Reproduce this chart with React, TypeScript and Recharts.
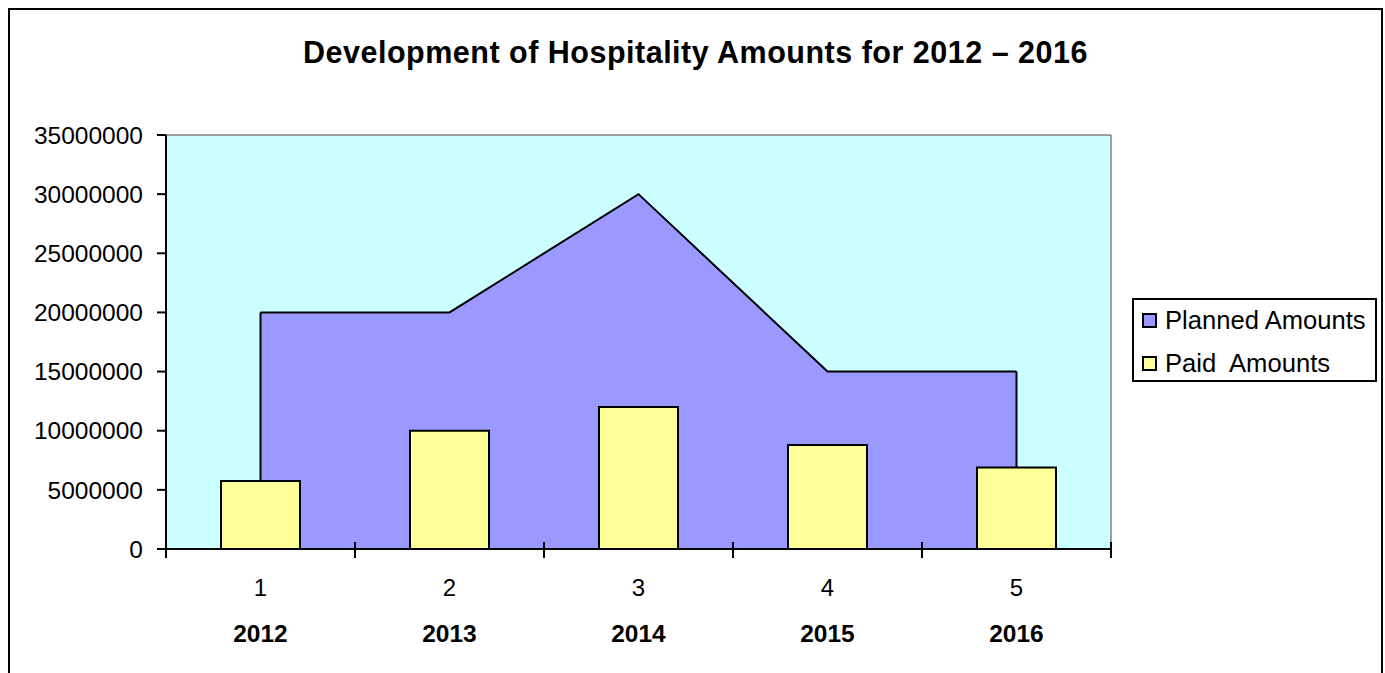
import React from "react";
import {
  ComposedChart,
  Area,
  Bar,
  XAxis,
  YAxis,
  CartesianGrid,
  Legend,
} from "recharts";

// chart values
const categories = ["1", "2", "3", "4", "5"];
const years = ["2012", "2013", "2014", "2015", "2016"];
const plannedAmounts = [20000000, 20000000, 30000000, 15000000, 15000000];
const paidAmounts = [5750000, 10000000, 12000000, 8800000, 6900000];
const yTicks = [0, 5000000, 10000000, 15000000, 20000000, 25000000, 30000000, 35000000];

const PLANNED_NAME = "Planned Amounts";
const PAID_NAME = "Paid  Amounts";
const PLANNED_COLOR = "#9999FF";
const PAID_COLOR = "#FFFF99";

const FONT = '"Liberation Sans", Arial, sans-serif';

const CHART_W = 1375;
const CHART_H = 665;
const MARGIN = { top: 127, right: 272, bottom: 14, left: 0 };
const Y_AXIS_W = 158;
const X_AXIS_H = 110;
const PLOT_W = CHART_W - MARGIN.left - MARGIN.right - Y_AXIS_W;
const PLOT_BOTTOM = CHART_H - MARGIN.bottom - X_AXIS_H;
const BAND = PLOT_W / categories.length;

const data = categories.map((c, i) => ({
  idx: c,
  planned: plannedAmounts[i],
  paid: paidAmounts[i],
}));

const legendItems = [
  { name: PLANNED_NAME, color: PLANNED_COLOR },
  { name: PAID_NAME, color: PAID_COLOR },
];

// x tick: number, bold year below, tick marks on the category borders
const XTick = (props: any) => {
  const { x, y, payload, index } = props;
  const half = BAND / 2;
  return (
    <g>
      <line x1={x - half} x2={x - half} y1={y - 7} y2={y + 9} stroke="#000" strokeWidth={2} />
      {index === categories.length - 1 && (
        <line x1={x + half} x2={x + half} y1={y - 7} y2={y + 9} stroke="#000" strokeWidth={2} />
      )}
      <text x={x} y={y + 47} textAnchor="middle" fontSize={24} fontFamily={FONT} fill="#000">
        {payload.value}
      </text>
      <text x={x} y={y + 93} textAnchor="middle" fontSize={24.5} fontWeight="bold" fontFamily={FONT} fill="#000">
        {years[index]}
      </text>
    </g>
  );
};

// the area outline is closed on its two ends
const edgeDot = (props: any) => {
  const { cx, cy, index } = props;
  if (index !== 0 && index !== categories.length - 1) return <g key={index} />;
  return <line key={index} x1={cx} x2={cx} y1={cy} y2={PLOT_BOTTOM} stroke="#000" strokeWidth={2} />;
};

const LegendBox = () => (
  <div
    style={{
      width: 245,
      height: 84,
      boxSizing: "border-box",
      border: "2px solid #000",
      background: "#fff",
      paddingTop: 8,
      fontFamily: FONT,
    }}
  >
    {legendItems.map((item, i) => (
      <div
        key={item.name}
        style={{ display: "flex", alignItems: "center", height: 25, marginTop: i === 0 ? 0 : 18 }}
      >
        <div
          style={{
            width: 15,
            height: 15,
            boxSizing: "border-box",
            border: "2px solid #000",
            background: item.color,
            marginLeft: 8,
            marginRight: 8,
          }}
        />
        <span style={{ fontSize: 25.6, lineHeight: "25px", whiteSpace: "pre", color: "#000" }}>{item.name}</span>
      </div>
    ))}
  </div>
);

const App = () => {
  return (
    <div style={{ position: "fixed", left: 0, top: 0, width: "100vw", height: "100vh", overflow: "hidden", background: "#fff" }}>
      <div style={{ position: "absolute", left: 8, top: 8, width: CHART_W, height: 700 }}>
        <div
          style={{
            position: "absolute",
            left: 0,
            top: 29,
            width: CHART_W,
            textAlign: "center",
            fontFamily: FONT,
            fontSize: 30.5,
            lineHeight: "30px",
            fontWeight: "bold",
            letterSpacing: 0.5,
            color: "#000",
          }}
        >
          Development of Hospitality Amounts for 2012 – 2016
        </div>
        <ComposedChart width={CHART_W} height={CHART_H} data={data} margin={MARGIN}>
          <CartesianGrid
            fill="#CCFFFF"
            fillOpacity={1}
            stroke="#808080"
            strokeWidth={1.5}
            horizontalCoordinatesGenerator={({ offset }: any) => [offset.top]}
            verticalCoordinatesGenerator={({ offset }: any) => [offset.left + offset.width]}
          />
          <XAxis
            dataKey="idx"
            height={X_AXIS_H}
            interval={0}
            tickSize={0}
            tickMargin={0}
            tickLine={false}
            axisLine={{ stroke: "#000", strokeWidth: 2 }}
            tick={<XTick />}
          />
          <YAxis
            width={Y_AXIS_W}
            domain={[0, 35000000]}
            ticks={yTicks}
            interval={0}
            tickSize={9}
            tickMargin={14}
            tickFormatter={(v: number) => String(v)}
            axisLine={{ stroke: "#000", strokeWidth: 2 }}
            tickLine={{ stroke: "#000", strokeWidth: 2 }}
            tick={{ fill: "#000", fontSize: 24.5, fontFamily: FONT }}
          />
          <Legend
            layout="horizontal"
            align="center"
            verticalAlign="middle"
            content={<LegendBox />}
            wrapperStyle={{ left: 1124, top: 290, width: 245, height: 84 }}
          />
          <Area
            type="linear"
            dataKey="planned"
            name={PLANNED_NAME}
            fill={PLANNED_COLOR}
            fillOpacity={1}
            stroke="#000"
            strokeWidth={2}
            dot={edgeDot}
            activeDot={false}
            isAnimationActive={false}
          />
          <Bar
            dataKey="paid"
            name={PAID_NAME}
            fill={PAID_COLOR}
            stroke="#000"
            strokeWidth={2}
            barSize={79}
            zIndex={1500}
            isAnimationActive={false}
          />
        </ComposedChart>
        <div
          style={{
            position: "absolute",
            left: 0,
            top: 0,
            width: CHART_W,
            height: 700,
            boxSizing: "border-box",
            border: "2px solid #000",
            pointerEvents: "none",
          }}
        />
      </div>
    </div>
  );
};

export default App;
